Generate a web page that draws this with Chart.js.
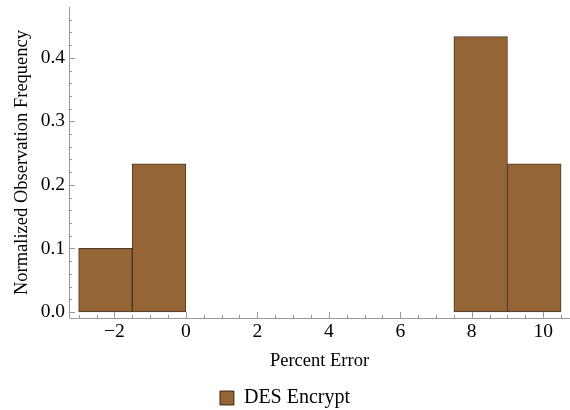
<!DOCTYPE html>
<html>
<head>
<meta charset="utf-8">
<script src="https://cdn.jsdelivr.net/npm/chart.js@4.4.0/dist/chart.umd.min.js"></script>
<style>
  html, body { margin: 0; padding: 0; background: #fff; }
  #wrap { width: 570px; height: 410px; }
</style>
</head>
<body>
<div id="wrap"><canvas id="myChart" width="570" height="410"></canvas></div>
<script>
// histogram bins (centres) and normalized frequencies
const binCenters = [-2.25, -0.75, 8.25, 9.75];
const freqs = [0.1, 0.2333, 0.4333, 0.2333];
const xTicks = [-2, 0, 2, 4, 6, 8, 10];
const yTicks = [0, 0.1, 0.2, 0.3, 0.4];

const serif = "'Liberation Serif', 'DejaVu Serif', serif";
const barColor = '#966535';

// inward ticks like Mathematica frames
const frameTicks = {
  id: 'frameTicks',
  afterDraw(chart) {
    const ctx = chart.ctx;
    const xs = chart.scales.x, ys = chart.scales.y;
    const left = xs.left, right = xs.right, top = ys.top, bottom = ys.bottom;
    ctx.save();
    ctx.strokeStyle = '#999';
    ctx.lineWidth = 1;
    ctx.beginPath();
    ctx.moveTo(left + 0.5, top);
    ctx.lineTo(left + 0.5, bottom + 0.5);
    ctx.lineTo(right, bottom + 0.5);
    ctx.stroke();
    ctx.beginPath();
    for (let v = -3; v <= 10.5; v += 0.5) {
      const px = Math.round(xs.getPixelForValue(v)) + 0.5;
      const major = Math.abs(v % 2) < 1e-9;
      ctx.moveTo(px, bottom);
      ctx.lineTo(px, bottom - (major ? 6 : 3));
    }
    for (let i = 0; i <= 23; i++) {
      const v = i * 0.02;
      const py = Math.round(ys.getPixelForValue(v)) + 0.5;
      const major = i % 5 === 0;
      ctx.moveTo(left, py);
      ctx.lineTo(left + (major ? 6 : 3), py);
    }
    ctx.stroke();
    ctx.restore();
  }
};

new Chart("myChart", {
  type: "bar",
  data: {
    datasets: [{
      label: "DES Encrypt",
      data: binCenters.map((c, i) => ({x: c, y: freqs[i]})),
      backgroundColor: barColor,
      borderColor: 'rgba(40,25,10,0.85)',
      borderWidth: 1,
      barPercentage: 1,
      categoryPercentage: 1,
      borderSkipped: false
    }]
  },
  options: {
    responsive: false,
    animation: false,
    layout: { padding: { top: 7, right: 0, left: 0, bottom: -8 } },
    plugins: {
      legend: {
        position: 'bottom',
        labels: {
          color: '#000',
          font: { family: serif, size: 20 },
          boxWidth: 14,
          boxHeight: 14,
          padding: 3
        }
      },
      tooltip: { enabled: false }
    },
    scales: {
      x: {
        type: 'linear',
        offset: false,
        min: -3.27,
        max: 10.75,
        grid: { display: false, drawTicks: false, offset: false },
        border: { display: false },
        afterBuildTicks: s => { s.ticks = xTicks.map(v => ({value: v})); },
        afterFit: s => { s.height = 67; },
        ticks: {
          color: '#000',
          padding: 2,
          font: { family: serif, size: 19.5 },
          maxRotation: 0,
          callback: v => (v < 0 ? '\u2212' + Math.abs(v) : '' + v)
        },
        title: {
          display: true,
          text: 'Percent Error',
          color: '#000',
          font: { family: serif, size: 18.5 },
          padding: { top: 4, bottom: 13 }
        }
      },
      y: {
        min: -0.0095,
        max: 0.48,
        grid: { display: false, drawTicks: false },
        border: { display: false },
        afterBuildTicks: s => { s.ticks = yTicks.map(v => ({value: v})); },
        afterFit: s => { s.width = 69; s.paddingTop = 0; s.paddingBottom = 0; },
        ticks: {
          color: '#000',
          padding: 4,
          font: { family: serif, size: 19.5 },
          callback: v => v.toFixed(1)
        },
        title: {
          display: true,
          text: 'Normalized Observation Frequency',
          color: '#000',
          font: { family: serif, size: 18.5 },
          padding: { top: 11, bottom: 2 }
        }
      }
    }
  },
  plugins: [frameTicks]
});
</script>
</body>
</html>
